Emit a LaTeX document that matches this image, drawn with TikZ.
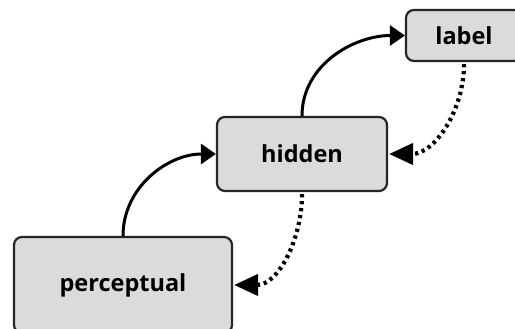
\documentclass[tikz,border=0pt]{standalone}
\usepackage{fontspec}
\setmainfont{Open Sans}
\usetikzlibrary{arrows.meta}
\begin{document}
\begin{tikzpicture}[x=1pt,y=1pt,
  layerbox/.style={draw=black!85, line width=2.2pt, fill=black!14, rounded corners=8pt,
    inner sep=0pt, font=\bfseries\fontsize{23.5}{26}\selectfont},
  upflow/.style={line width=3pt, -{Triangle[length=15pt,width=20pt]}},
  downflow/.style={line width=4.2pt, dash pattern=on 3.2pt off 3.8pt,
    -{Triangle[length=24pt,width=21pt]}}]
  \clip (0,0) rectangle (515,329);
  \fill[white] (0,0) rectangle (515,329);
  \node[layerbox, minimum width=116pt, minimum height=51pt] (label) at (464,293.5) {label};
  \node[layerbox, minimum width=170pt, minimum height=74pt] (hidden) at (302,175) {hidden};
  \node[layerbox, minimum width=218pt, minimum height=96pt] (perc) at (123,44) {perceptual};
  \draw[upflow] (perc.north) to[out=90,in=180] (hidden.west);
  \draw[upflow] (hidden.north) to[out=90,in=180] (label.west);
  \draw[downflow] ([yshift=-2pt]label.south) to[out=-90,in=0] ([xshift=1pt]hidden.east);
  \draw[downflow] ([yshift=-2pt]hidden.south) to[out=-90,in=0] ([xshift=1pt]perc.east);
\end{tikzpicture}
\end{document}
